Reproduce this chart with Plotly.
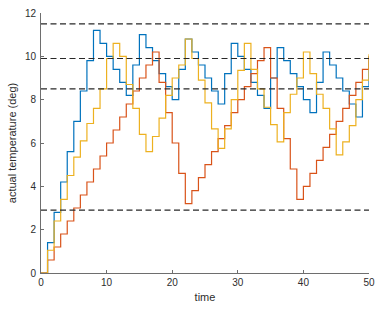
import plotly.graph_objects as go

# time steps (stairs x values)
time = list(range(51))

# series values
blue_temp = [0, 1.4, 2.8, 4.2, 5.6, 7.0, 8.4, 9.8, 11.2, 10.6,
             10.0, 9.4, 8.8, 8.2, 9.6, 11.0, 10.4, 9.8, 9.2, 8.6,
             8.0, 9.4, 10.8, 10.2, 9.6, 9.0, 8.4, 7.8, 9.2, 10.6,
             10.0, 9.4, 8.8, 8.2, 7.6, 9.0, 10.4, 9.8, 9.2, 8.6,
             8.0, 7.4, 8.8, 10.2, 9.6, 9.0, 8.4, 7.8, 7.2, 8.6,
             10.0]
orange_temp = [0, 0.6, 1.2, 1.8, 2.4, 3.0, 3.6, 4.2, 4.8, 5.4,
               6.0, 6.6, 7.2, 7.8, 8.4, 9.0, 9.6, 10.2, 8.8, 7.4,
               6.0, 4.6, 3.2, 3.8, 4.4, 5.0, 5.6, 6.2, 6.8, 7.4,
               8.0, 8.6, 9.2, 9.8, 10.4, 9.0, 7.6, 6.2, 4.8, 3.4,
               4.0, 4.6, 5.2, 5.8, 6.4, 7.0, 7.6, 8.2, 8.8, 9.4,
               10.0]
yellow_temp = [0, 1.05, 2.4, 3.4, 4.5, 5.35, 6.1, 6.9, 7.6, 8.5,
               9.9, 10.6, 10.0, 8.7, 7.6, 6.4, 5.6, 6.3, 7.15, 8.2,
               9.0, 9.6, 10.8, 9.9, 8.9, 7.85, 6.65, 5.75, 6.65, 8.0,
               9.35, 10.6, 9.4, 8.5, 7.65, 6.85, 6.05, 7.4, 8.25, 9.0,
               10.2, 9.2, 8.25, 7.6, 6.65, 5.45, 6.05, 6.8, 8.0, 8.9,
               10.1]

# reference levels (dashed lines)
ref_levels = [11.5, 9.9, 8.5, 2.9]
time_span = [0, 50]

x_ticks = [0, 10, 20, 30, 40, 50]
y_ticks = [0, 2, 4, 6, 8, 10, 12]

series = [
    (blue_temp, "#0072BD"),
    (orange_temp, "#D95319"),
    (yellow_temp, "#EDB120"),
]

fig = go.Figure()
for vals, col in series:
    fig.add_trace(go.Scatter(x=time, y=vals, mode="lines",
                             line=dict(shape="hv", color=col, width=1.2),
                             hoverinfo="skip", showlegend=False))
for lvl in ref_levels:
    fig.add_trace(go.Scatter(x=time_span, y=[lvl, lvl], mode="lines",
                             line=dict(color="rgb(40,40,40)", width=1.1, dash="6px,3.5px"),
                             hoverinfo="skip", showlegend=False))

axis_col = "rgb(110,110,110)"
font_col = "rgb(45,45,45)"
fig.update_layout(
    width=382, height=309,
    margin=dict(l=41, r=13, t=13, b=36, autoexpand=False),
    paper_bgcolor="white", plot_bgcolor="white",
    font=dict(family="Liberation Sans, Arial, sans-serif", size=10, color=font_col),
    xaxis=dict(range=[0, 50], tickvals=x_ticks, ticks="inside", ticklen=3,
               tickcolor=axis_col, showline=True, linecolor=axis_col, linewidth=1,
               showgrid=False, zeroline=False, automargin=False,
               title=dict(text="time", font=dict(size=11), standoff=6)),
    yaxis=dict(range=[0, 12], tickvals=y_ticks, ticks="inside", ticklen=3,
               tickcolor=axis_col, showline=True, linecolor=axis_col, linewidth=1,
               showgrid=False, zeroline=False, automargin=False,
               ticklabelstandoff=2,
               title=dict(text="actual temperature (deg)", font=dict(size=11), standoff=6)),
)
fig.write_html("out.html", config={"displayModeBar": False},
               post_script="document.body.style.margin='0';document.body.style.overflow='hidden';")
